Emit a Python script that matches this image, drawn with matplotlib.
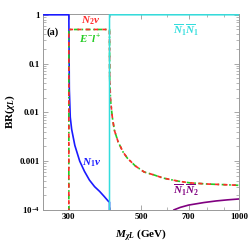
import numpy as np
import matplotlib
matplotlib.use('Agg')
import matplotlib.pyplot as plt
from matplotlib.ticker import FixedLocator, NullFormatter, LogLocator

plt.rcParams['font.family'] = ['Liberation Serif', 'DejaVu Serif']
plt.rcParams['font.weight'] = 'bold'
plt.rcParams['mathtext.fontset'] = 'custom'
plt.rcParams['mathtext.rm'] = 'Liberation Serif:bold'
plt.rcParams['mathtext.it'] = 'Liberation Serif:italic:bold'
plt.rcParams['mathtext.bf'] = 'Liberation Serif:bold'

# N1 nu (blue)
m_n1nu = [250, 300, 301, 303, 306, 313, 324, 335, 347, 360, 373, 385, 397, 400, 400.01]
br_n1nu = [1, 1, 0.03, 0.008, 4.5e-3, 2.1e-3, 1.0e-3, 6.2e-4, 4.1e-4, 3.0e-4, 2.4e-4, 1.9e-4, 1.5e-4, 1.45e-4, 1e-7]

# N2 nu and E- l+ (same curve)
m_n2nu = [299.99, 300, 400, 400.5, 403, 408, 414, 425, 440, 454, 480, 511, 549, 585, 650, 705, 800, 900, 1000]
br_n2nu = [1e-7, 0.5, 0.5, 0.05, 0.0175, 0.008, 4.3e-3, 2.5e-3, 1.55e-3, 1.15e-3, 8e-4, 6e-4, 5.2e-4, 4.5e-4, 3.9e-4, 3.6e-4, 3.4e-4, 3.3e-4, 3.2e-4]

# N1bar N1bar (cyan)
m_n1n1 = [399.99, 400, 1000]
br_n1n1 = [1e-7, 1, 1]

# N1bar N2bar (purple)
m_n1n2 = [600, 605, 615, 630, 660, 700, 780, 850, 920, 1000]
br_n1n2 = [1e-7, 3e-5, 6.5e-5, 1e-4, 1.13e-4, 1.26e-4, 1.42e-4, 1.53e-4, 1.61e-4, 1.68e-4]

xticks = [300, 500, 700, 1000]
xminor = [400, 600, 800, 900]
yticks = [1e-4, 1e-3, 1e-2, 1e-1, 1]
ylabels = ['$10^{-4}$', '0.001', '0.01', '0.1', '1']

fig = plt.figure(figsize=(2.49, 2.45), dpi=100)
ax = fig.add_axes([0.173, 0.143, 0.787, 0.8])

blue = '#1a1aff'
red = '#ff2a2a'
green = '#22cc22'
cyan = '#33dddd'
purple = '#800080'

ax.plot(m_n1nu, br_n1nu, color=blue, lw=1.2, zorder=3)
ax.plot(m_n2nu, br_n2nu, color=green, lw=1.2, linestyle=(0, (3, 1.5, 1, 1.5)), zorder=3)
ax.plot(m_n2nu, br_n2nu, color=red, lw=1.2, linestyle=(0, (2.5, 2.5)), zorder=3)
ax.plot(m_n1n1, br_n1n1, color=cyan, lw=1.1, zorder=3)
ax.plot(m_n1n2, br_n1n2, color=purple, lw=1.2, zorder=3)

ax.set_xscale('log')
ax.set_yscale('log')
ax.set_xlim(250, 1000)
ax.set_ylim(1e-4, 1.04)

ax.xaxis.set_major_locator(FixedLocator(xticks))
ax.xaxis.set_minor_locator(FixedLocator(xminor))
ax.xaxis.set_minor_formatter(NullFormatter())
ax.set_xticklabels([str(t) for t in xticks])
ax.yaxis.set_major_locator(FixedLocator(yticks))
ax.yaxis.set_minor_locator(LogLocator(base=10, subs=np.arange(2, 10)))
ax.yaxis.set_minor_formatter(NullFormatter())
ax.set_yticklabels(ylabels)

ax.tick_params(which='both', direction='in', top=True, right=True, color='#999999')
ax.tick_params(which='major', length=3.5, width=0.6, labelsize=6.5, pad=2.5)
ax.tick_params(which='minor', length=2, width=0.5)
for s in ax.spines.values():
    s.set_color('#999999')
    s.set_linewidth(0.7)
for lab in ax.get_xticklabels() + ax.get_yticklabels():
    lab.set_fontweight('bold')

ax.set_xlabel(r'$M_{\chi L}$ (GeV)', fontsize=8, fontweight='bold', labelpad=4)
ax.set_ylabel(r'BR$(\chi_L)$', fontsize=8, fontweight='bold', labelpad=2)

ax.text(268, 0.45, '(a)', fontsize=7.5, fontweight='bold', ha='center', va='center')
ax.text(349, 0.76, r'$N_2\nu$', color=red, fontsize=8, ha='center', va='center')
ax.text(349, 0.32, r'$E^{-}l^{+}$', color=green, fontsize=8, ha='center', va='center')
ax.text(687, 0.49, r'$\overline{N}_1\overline{N}_1$', color=cyan, fontsize=8, ha='center', va='center')
ax.text(352, 9.5e-4, r'$N_1\nu$', color=blue, fontsize=8, ha='center', va='center')
ax.text(687, 2.56e-4, r'$\overline{N}_1\overline{N}_2$', color=purple, fontsize=8, ha='center', va='center')

plt.savefig('out.png', dpi=100)
